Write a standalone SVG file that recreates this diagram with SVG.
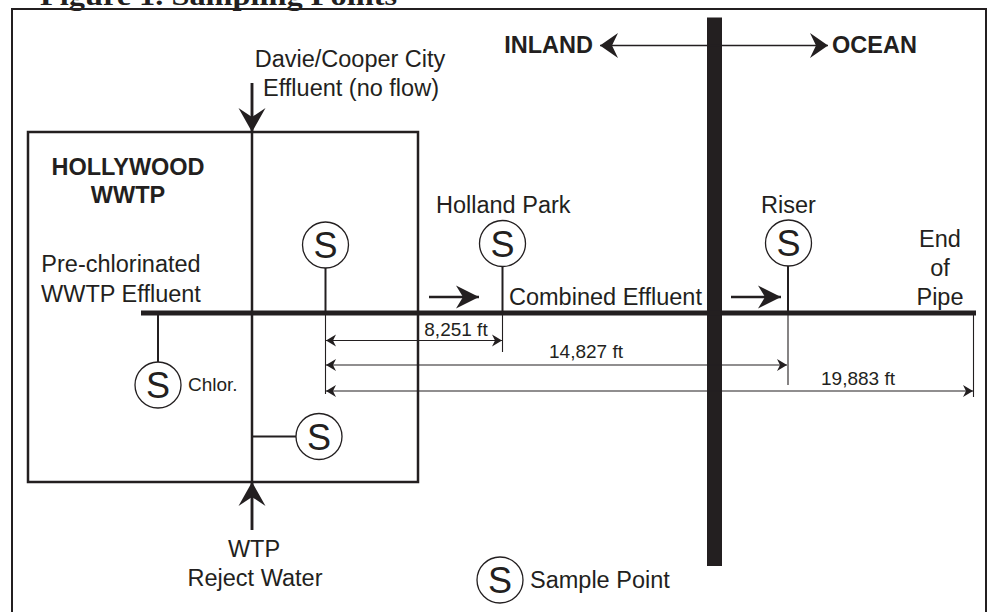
<svg xmlns="http://www.w3.org/2000/svg" width="988" height="612" viewBox="0 0 988 612">
<style>
  text { font-family: "Liberation Sans", Arial, sans-serif; fill: #231f20; }
  .lbl { font-size: 23.5px; }
  .bold { font-size: 23.5px; font-weight: bold; }
  .small { font-size: 19px; }
  .s { font-size: 36px; text-anchor: middle; }
  .title { font-family: "Liberation Serif", "Times New Roman", serif; font-weight: bold; font-size: 28px; }
  .frame { fill: none; stroke: #231f20; stroke-width: 2; }
  .box { fill: none; stroke: #231f20; stroke-width: 2.5; }
  .circ { fill: #ffffff; stroke: #231f20; stroke-width: 1.3; }
  .pipe { stroke: #231f20; stroke-width: 5; fill: none; }
  .thick { stroke: #231f20; stroke-width: 2.5; fill: none; }
  .stem { stroke: #231f20; stroke-width: 2; fill: none; }
  .thin { stroke: #231f20; stroke-width: 1.1; fill: none; }
  .dirl { stroke: #231f20; stroke-width: 1.6; fill: none; }
  .ah { fill: #231f20; }
</style>
<defs>
  <marker id="dim" markerUnits="userSpaceOnUse" viewBox="-11 -7 12 14" markerWidth="12" markerHeight="14" refX="0" refY="0" orient="auto-start-reverse">
    <path class="ah" d="M0,0 L-10,-6 L-7,0 L-10,6 Z"/>
  </marker>
  <marker id="flow" markerUnits="userSpaceOnUse" viewBox="-24 -13 25 26" markerWidth="25" markerHeight="26" refX="0" refY="0" orient="auto">
    <path class="ah" d="M0,0 L-23,-11.5 L-16,0 L-23,11.5 Z"/>
  </marker>
  <marker id="big" markerUnits="userSpaceOnUse" viewBox="-26 -15 27 30" markerWidth="27" markerHeight="30" refX="0" refY="0" orient="auto">
    <path class="ah" d="M0,0 L-24,-13.5 L-15,0 L-24,13.5 Z"/>
  </marker>
  <marker id="dir" markerUnits="userSpaceOnUse" viewBox="-20 -14 21 28" markerWidth="21" markerHeight="28" refX="0" refY="0" orient="auto-start-reverse">
    <path class="ah" d="M0,0 L-18,-12.5 L-12,0 L-18,12.5 Z"/>
  </marker>
</defs>

<text class="title" x="40" y="4.5" textLength="357" lengthAdjust="spacingAndGlyphs">Figure 1. Sampling Points</text>
<rect class="frame" x="12" y="9" width="974" height="620"/>

<g id="hollywood-wwtp">
  <rect class="box" x="28" y="132" width="390" height="350"/>
  <text class="bold" x="128" y="175" text-anchor="middle">HOLLYWOOD</text>
  <text class="bold" x="128" y="203" text-anchor="middle">WWTP</text>
</g>

<g id="shoreline">
  <rect x="707" y="17.5" width="15" height="548.5" fill="#231f20"/>
</g>

<g id="connectors">
  <line class="pipe" x1="141" y1="313" x2="976" y2="313"/>
  <line class="thick" x1="252" y1="83" x2="252" y2="530"/>
  <line class="thick" x1="252" y1="83" x2="252" y2="132" marker-end="url(#big)"/>
  <line class="thick" x1="252" y1="530" x2="252" y2="482" marker-end="url(#big)"/>
  <line class="stem" x1="325.5" y1="268" x2="325.5" y2="313"/>
  <line class="stem" x1="502.5" y1="266" x2="502.5" y2="313"/>
  <line class="stem" x1="788" y1="266" x2="788" y2="313"/>
  <line class="stem" x1="158" y1="313" x2="158" y2="362"/>
  <line class="stem" x1="252" y1="436.5" x2="296" y2="436.5"/>
  <line class="thick" x1="429" y1="297" x2="479" y2="297" marker-end="url(#flow)"/>
  <line class="thick" x1="731" y1="297" x2="781" y2="297" marker-end="url(#flow)"/>
  <line class="dirl" x1="600" y1="45.5" x2="828" y2="45.5" marker-start="url(#dir)" marker-end="url(#dir)"/>
  <line class="thin" x1="325.5" y1="313" x2="325.5" y2="394"/>
  <line class="thin" x1="502.5" y1="313" x2="502.5" y2="352"/>
  <line class="thin" x1="788" y1="313" x2="788" y2="385"/>
  <line class="thin" x1="973.5" y1="313" x2="973.5" y2="397"/>
  <line class="thin" x1="326" y1="340.5" x2="502" y2="340.5" marker-start="url(#dim)" marker-end="url(#dim)"/>
  <line class="thin" x1="326" y1="365" x2="787" y2="365" marker-start="url(#dim)" marker-end="url(#dim)"/>
  <line class="thin" x1="326" y1="391" x2="973" y2="391" marker-start="url(#dim)" marker-end="url(#dim)"/>
</g>

<g id="s-wwtp">
  <circle class="circ" cx="325.5" cy="245" r="23"/>
  <text class="s" x="325.5" y="258">S</text>
</g>
<g id="s-holland-park">
  <circle class="circ" cx="502.5" cy="243.5" r="23"/>
  <text class="s" x="502.5" y="256.5">S</text>
  <text class="lbl" x="436" y="213">Holland Park</text>
</g>
<g id="s-riser">
  <circle class="circ" cx="788.5" cy="243" r="23"/>
  <text class="s" x="788.5" y="256">S</text>
  <text class="lbl" x="761" y="213">Riser</text>
</g>
<g id="s-chlor">
  <circle class="circ" cx="158" cy="385" r="23"/>
  <text class="s" x="158" y="398">S</text>
  <text class="small" x="188" y="391">Chlor.</text>
</g>
<g id="s-reject">
  <circle class="circ" cx="319" cy="436.5" r="23"/>
  <text class="s" x="319" y="449.5">S</text>
</g>

<g id="labels">
  <text class="lbl" x="350" y="67" text-anchor="middle">Davie/Cooper City</text>
  <text class="lbl" x="351" y="96" text-anchor="middle">Effluent (no flow)</text>
  <text class="lbl" x="121" y="272" text-anchor="middle">Pre-chlorinated</text>
  <text class="lbl" x="121" y="302" text-anchor="middle">WWTP Effluent</text>
  <text class="lbl" x="509" y="305">Combined Effluent</text>
  <text class="lbl" x="940" y="247" text-anchor="middle">End</text>
  <text class="lbl" x="940" y="276" text-anchor="middle">of</text>
  <text class="lbl" x="940" y="305" text-anchor="middle">Pipe</text>
  <text class="small" x="456" y="336" text-anchor="middle">8,251 ft</text>
  <text class="small" x="586" y="358" text-anchor="middle">14,827 ft</text>
  <text class="small" x="858" y="385" text-anchor="middle">19,883 ft</text>
  <text class="lbl" x="254" y="557" text-anchor="middle">WTP</text>
  <text class="lbl" x="255" y="586" text-anchor="middle">Reject Water</text>
  <text class="bold" x="593" y="53" text-anchor="end">INLAND</text>
  <text class="bold" x="832" y="53">OCEAN</text>
</g>

<g id="legend">
  <circle class="circ" cx="500" cy="580" r="23"/>
  <text class="s" x="500" y="593">S</text>
  <text class="lbl" x="530" y="588">Sample Point</text>
</g>
</svg>
